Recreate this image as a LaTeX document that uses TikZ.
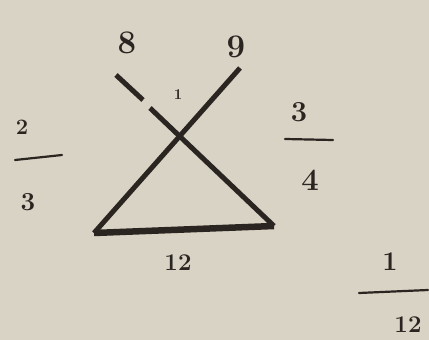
\documentclass[tikz,border=0pt]{standalone}
\usepackage{xcolor}
\usepackage{tikz}
\usetikzlibrary{positioning}
\definecolor{paper}{HTML}{D9D3C6}
\definecolor{ink}{HTML}{2A2520}

\begin{document}
\begin{tikzpicture}[
  x=1pt, y=-1pt,
  num/.style={text=ink, inner sep=0pt, font=\fontsize{#1}{#1}\selectfont\bfseries},
  num/.default=30,
  stroke/.style={draw=ink, line width=5pt},
  bar/.style={draw=ink, line width=2.2pt, line cap=round},
]
% --- page -----------------------------------------------------------------
\fill[paper] (0,0) rectangle (429,340);
\useasboundingbox (0,0) rectangle (429,340);

% --- figure corners -------------------------------------------------------
\coordinate (tl)   at (116,75);
\coordinate (tlb)  at (143,100);
\coordinate (tlc)  at (150,108);
\coordinate (tr)   at (240,68);
\coordinate (bl)   at (94,233);
\coordinate (br)   at (274,226);

% --- crossing lines and base ----------------------------------------------
\draw[stroke] (tl) -- (tlb);
\draw[stroke] (tlc) -- (br);
\draw[stroke] (tr) -- (bl);
\draw[stroke, line width=6.5pt] (bl) -- (br);

% --- numbers on the figure ------------------------------------------------
\node[num=33] (eight) at (127,43) {8};
\node[num=33] (nine)  at (236,47) {9};
\node[num=15] (one)   at (178,95) {1};
\node[num=24] (base)  at (178,263) {12};

% --- left fraction --------------------------------------------------------
\node[num=22] (ltop) at (22,127) {2};
\coordinate (lbl) at (15,160);
\coordinate (lbr) at (62,155);
\draw[bar] (lbl) -- (lbr);
\node[num=26] (lbot) at (28,202) {3};

% --- right fraction -------------------------------------------------------
\node[num=29] (rtop) at (299,112) {3};
\coordinate (rbl) at (285,139);
\coordinate (rbr) at (333,140);
\draw[bar] (rbl) -- (rbr);
\node[num=31] (rbot) at (310,180) {4};

% --- bottom right fraction ------------------------------------------------
\node[num=27] (btop) at (390,262) {1};
\coordinate (bbl) at (359,293);
\coordinate (bbr) at (428,290);
\draw[bar] (bbl) -- (bbr);
\node[num=24] (bbot) at (408,325) {12};
\end{tikzpicture}
\end{document}
